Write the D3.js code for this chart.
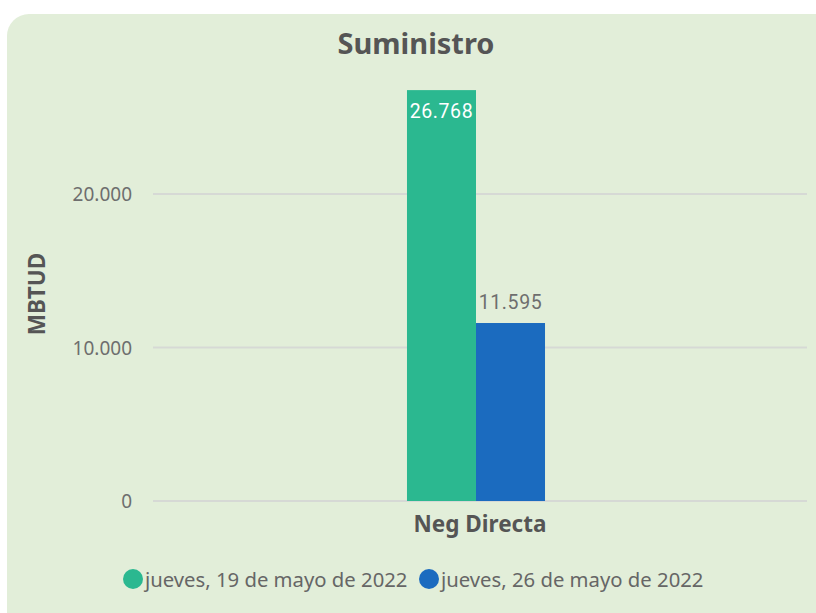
<!DOCTYPE html>
<html>
<head>
<meta charset="utf-8">
<script src="https://cdn.jsdelivr.net/npm/d3@7"></script>
<style>
  body { margin: 0; background: #fff; }
  svg { display: block; }
</style>
</head>
<body>
<svg id="chart"></svg>
<script>
const categories = ["Neg Directa"];
const seriesNames = ["jueves, 19 de mayo de 2022", "jueves, 26 de mayo de 2022"];
const seriesValues = [[26768], [11595]];
const yTicks = [0, 10000, 20000];
const colors = ["#2bb890", "#1b6bbf"];

const W = 816, H = 613;
const svg = d3.select("#chart").attr("width", W).attr("height", H);

// panel background
svg.append("rect")
  .attr("x", 7).attr("y", 14)
  .attr("width", 830).attr("height", 620)
  .attr("rx", 22)
  .attr("fill", "#e2eed9");

const plot = { left: 153, right: 807, top: 40, bottom: 501 };

const y = d3.scaleLinear()
  .domain([0, 30000])
  .range([plot.bottom, plot.bottom - 3 * 153.5]);

// bars sit slightly left of the plot centre
const x0 = d3.scaleBand()
  .domain(categories)
  .range([plot.left, plot.right - 8])
  .paddingInner(0)
  .paddingOuter(1.84);

const x1 = d3.scaleBand()
  .domain(d3.range(seriesNames.length))
  .range([0, x0.bandwidth()]);

const fmt = d3.formatLocale({ decimal: ",", thousands: ".", grouping: [3], currency: ["", ""] }).format(",.0f");

// gridlines + tick labels
const grid = svg.append("g");
yTicks.forEach(t => {
  grid.append("line")
    .attr("x1", plot.left).attr("x2", plot.right)
    .attr("y1", y(t)).attr("y2", y(t))
    .attr("stroke", "#d6d9d5").attr("stroke-width", 2);
  grid.append("text")
    .attr("x", 132).attr("y", y(t) + 7)
    .attr("text-anchor", "end")
    .attr("font-family", "Noto Sans, sans-serif")
    .attr("font-size", 19)
    .attr("fill", "#6e6e6e")
    .text(fmt(t));
});

// bars
categories.forEach((c, ci) => {
  seriesNames.forEach((s, si) => {
    const v = seriesValues[si][ci];
    const bx = x0(c) + x1(si);
    svg.append("rect")
      .attr("x", bx).attr("y", y(v))
      .attr("width", x1.bandwidth())
      .attr("height", y(0) - y(v))
      .attr("fill", colors[si]);
    const inside = si === 0;
    svg.append("text")
      .attr("x", bx + x1.bandwidth() / 2)
      .attr("y", inside ? y(v) + 28 : y(v) - 14)
      .attr("text-anchor", "middle")
      .attr("font-family", "Roboto, sans-serif")
      .attr("font-size", 19.5)
      .attr("letter-spacing", 0.6)
      .attr("fill", inside ? "#ffffff" : "#6e6e6e")
      .text(fmt(v));
  });
  svg.append("text")
    .attr("x", (plot.left + plot.right) / 2)
    .attr("y", 532)
    .attr("text-anchor", "middle")
    .attr("font-family", "Noto Sans, sans-serif")
    .attr("font-weight", "bold")
    .attr("font-size", 22.5)
    .attr("fill", "#555")
    .text(c);
});

// title
svg.append("text")
  .attr("x", 416).attr("y", 54)
  .attr("text-anchor", "middle")
  .attr("font-family", "Noto Sans, sans-serif")
  .attr("font-weight", "bold")
  .attr("font-size", 29)
  .attr("fill", "#555")
  .text("Suministro");

// y axis label
svg.append("text")
  .attr("transform", "translate(45,294) rotate(-90)")
  .attr("text-anchor", "middle")
  .attr("font-family", "Noto Sans, sans-serif")
  .attr("font-weight", "bold")
  .attr("font-size", 22.5)
  .attr("fill", "#555")
  .text("MBTUD");

// legend
const legendX = [133, 429];
seriesNames.forEach((s, i) => {
  const g = svg.append("g").attr("transform", `translate(${legendX[i]},579)`);
  g.append("circle").attr("r", 10).attr("fill", colors[i]);
  g.append("text")
    .attr("x", 12).attr("y", 7.5)
    .attr("font-family", "Noto Sans, sans-serif")
    .attr("font-size", 20.3)
    .attr("fill", "#666")
    .text(s);
});
</script>
</body>
</html>
